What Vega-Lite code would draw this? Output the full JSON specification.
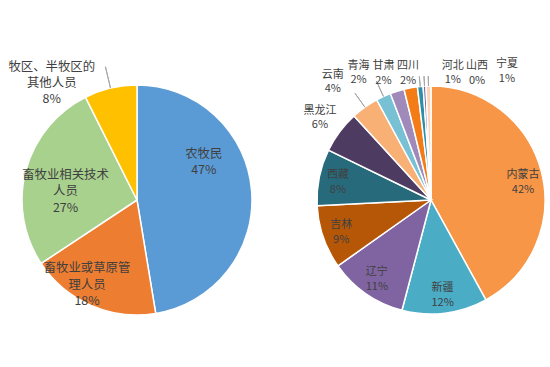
{
  "$schema": "https://vega.github.io/schema/vega-lite/v6.json",
  "padding": {"left": 0, "top": 33, "right": 0, "bottom": 0},
  "spacing": 38,
  "bounds": "flush",
  "background": "white",
  "config": {"view": {"stroke": null}, "text": {"font": "Noto Sans CJK SC"}},
  "resolve": {"scale": {"color": "independent", "theta": "independent"}},
  "hconcat": [
    {
      "width": 274,
      "height": 334,
      "data": {"values": [
        {"i": 1, "name": "农牧民", "value": 47.4, "label": "农牧民\n47%"},
        {"i": 2, "name": "畜牧业或草原管理人员", "value": 18.3, "label": "畜牧业或草原管\n理人员\n18%"},
        {"i": 3, "name": "畜牧业相关技术人员", "value": 26.9, "label": "畜牧业相关技术\n人员\n27%"},
        {"i": 4, "name": "牧区、半牧区的其他人员", "value": 7.4, "label": "牧区、半牧区的\n其他人员\n8%"}
      ]},
      "transform": [
        {"stack": "value", "groupby": [], "sort": [{"field": "i", "order": "ascending"}], "as": ["s0", "s1"]},
        {"calculate": "(datum.s0+datum.s1)/2", "as": "mid"}
      ],
      "layer": [
        {
          "mark": {"type": "arc", "outerRadius": 115, "stroke": "white", "strokeWidth": 1.5},
          "encoding": {
            "theta": {"field": "s0", "type": "quantitative", "stack": null, "scale": {"domain": [0, 100]}},
            "theta2": {"field": "s1"},
            "color": {"field": "name", "type": "nominal", "legend": null,
              "scale": {"domain": ["农牧民", "畜牧业或草原管理人员", "畜牧业相关技术人员", "牧区、半牧区的其他人员"],
                        "range": ["#5B9BD5", "#ED7D31", "#A9D18E", "#FFC000"]}}
          }
        },
        {
          "transform": [{"filter": "datum.i == 4"}],
          "mark": {"type": "arc", "radius": 137, "radius2": 115, "fill": "transparent", "stroke": "#a6a6a6", "strokeWidth": 1},
          "encoding": {
            "theta": {"field": "mid", "type": "quantitative", "stack": null, "scale": {"domain": [0, 100]}},
            "theta2": {"field": "mid"}
          }
        },
        {
          "transform": [{"filter": "datum.i == 1"}],
          "mark": {"type": "text", "radius": 75, "dx": -8, "dy": -40, "lineBreak": "\n", "fontSize": 12.4, "lineHeight": 16.3, "fill": "#404040"},
          "encoding": {"theta": {"field": "mid", "type": "quantitative", "stack": null, "scale": {"domain": [0, 100]}}, "text": {"field": "label"}}
        },
        {
          "transform": [{"filter": "datum.i == 2"}],
          "mark": {"type": "text", "radius": 90, "dx": -14, "dy": -14, "lineBreak": "\n", "fontSize": 12.4, "lineHeight": 16.3, "fill": "#404040"},
          "encoding": {"theta": {"field": "mid", "type": "quantitative", "stack": null, "scale": {"domain": [0, 100]}}, "text": {"field": "label"}}
        },
        {
          "transform": [{"filter": "datum.i == 3"}],
          "mark": {"type": "text", "radius": 74, "dx": 0, "dy": -6, "lineBreak": "\n", "fontSize": 12.4, "lineHeight": 16.3, "fill": "#404040"},
          "encoding": {"theta": {"field": "mid", "type": "quantitative", "stack": null, "scale": {"domain": [0, 100]}}, "text": {"field": "label"}}
        },
        {
          "transform": [{"filter": "datum.i == 4"}],
          "mark": {"type": "text", "radius": 140, "dx": -53, "dy": 3, "lineBreak": "\n", "fontSize": 12.4, "lineHeight": 16.3, "fill": "#404040"},
          "encoding": {"theta": {"field": "mid", "type": "quantitative", "stack": null, "scale": {"domain": [0, 100]}}, "text": {"field": "label"}}
        }
      ]
    },
    {
      "width": 238,
      "height": 334,
      "data": {"values": [
        {"i": 1, "name": "内蒙古", "value": 42.0, "label": "内蒙古\n42%"},
        {"i": 2, "name": "新疆", "value": 12.1, "label": "新疆\n12%"},
        {"i": 3, "name": "辽宁", "value": 11.1, "label": "辽宁\n11%"},
        {"i": 4, "name": "吉林", "value": 9.0, "label": "吉林\n9%"},
        {"i": 5, "name": "西藏", "value": 8.0, "label": "西藏\n8%"},
        {"i": 6, "name": "黑龙江", "value": 6.0, "label": "黑龙江\n6%"},
        {"i": 7, "name": "云南", "value": 3.9, "label": "云南\n4%"},
        {"i": 8, "name": "青海", "value": 2.1, "label": "青海\n2%"},
        {"i": 9, "name": "甘肃", "value": 2.0, "label": "甘肃\n2%"},
        {"i": 10, "name": "四川", "value": 1.9, "label": "四川\n2%"},
        {"i": 11, "name": "河北", "value": 0.8, "label": "河北\n1%"},
        {"i": 12, "name": "山西", "value": 0.4, "label": "山西\n0%"},
        {"i": 13, "name": "宁夏", "value": 0.7, "label": "宁夏\n1%"}
      ]},
      "transform": [
        {"stack": "value", "groupby": [], "sort": [{"field": "i", "order": "ascending"}], "as": ["s0", "s1"]},
        {"calculate": "(datum.s0+datum.s1)/2", "as": "mid"}
      ],
      "layer": [
        {
          "mark": {"type": "arc", "outerRadius": 114, "stroke": "white", "strokeWidth": 1.5},
          "encoding": {
            "theta": {"field": "s0", "type": "quantitative", "stack": null, "scale": {"domain": [0, 100]}},
            "theta2": {"field": "s1"},
            "color": {"field": "name", "type": "nominal", "legend": null,
              "scale": {"domain": ["内蒙古", "新疆", "辽宁", "吉林", "西藏", "黑龙江", "云南", "青海", "甘肃", "四川", "河北", "山西", "宁夏"],
                        "range": ["#F79646", "#4BACC6", "#8064A2", "#B65708", "#276A7C", "#4D3B62", "#F9B074", "#78C0D4", "#9F8AB9", "#F47C17", "#2C8EA8", "#7B5EA0", "#FBD5B5"]}}
          }
        },
        {
          "transform": [{"filter": "datum.i == 7 || datum.i == 8"}],
          "mark": {"type": "arc", "radius": 131, "radius2": 114, "fill": "transparent", "stroke": "#a6a6a6", "strokeWidth": 1},
          "encoding": {
            "theta": {"field": "mid", "type": "quantitative", "stack": null, "scale": {"domain": [0, 100]}},
            "theta2": {"field": "mid"}
          }
        },
        {
          "transform": [{"filter": "datum.i >= 11"}],
          "mark": {"type": "arc", "radius": 124, "radius2": 114, "fill": "transparent", "stroke": "#a6a6a6", "strokeWidth": 1},
          "encoding": {
            "theta": {"field": "mid", "type": "quantitative", "stack": null, "scale": {"domain": [0, 100]}},
            "theta2": {"field": "mid"}
          }
        },
        {
          "transform": [{"filter": "datum.i == 1"}],
          "mark": {"type": "text", "radius": 95, "dy": -1, "lineBreak": "\n", "fontSize": 11, "lineHeight": 14.5, "fill": "#404040"},
          "encoding": {"theta": {"field": "mid", "type": "quantitative", "stack": null, "scale": {"domain": [0, 100]}}, "text": {"field": "label"}}
        },
        {
          "transform": [{"filter": "datum.i >= 2 && datum.i <= 5"}],
          "mark": {"type": "text", "radius": 95, "dy": -6, "lineBreak": "\n", "fontSize": 11, "lineHeight": 14.5, "fill": "#404040"},
          "encoding": {"theta": {"field": "mid", "type": "quantitative", "stack": null, "scale": {"domain": [0, 100]}}, "text": {"field": "label"}}
        },
        {
          "transform": [{"filter": "datum.i == 6"}],
          "mark": {"type": "text", "radius": 141, "dx": 2, "dy": -5, "lineBreak": "\n", "fontSize": 11, "lineHeight": 14.5, "fill": "#404040"},
          "encoding": {"theta": {"field": "mid", "type": "quantitative", "stack": null, "scale": {"domain": [0, 100]}}, "text": {"field": "label"}}
        },
        {
          "transform": [{"filter": "datum.i == 7"}],
          "mark": {"type": "text", "radius": 140, "dx": -17, "dy": -11, "lineBreak": "\n", "fontSize": 11, "lineHeight": 14.5, "fill": "#404040"},
          "encoding": {"theta": {"field": "mid", "type": "quantitative", "stack": null, "scale": {"domain": [0, 100]}}, "text": {"field": "label"}}
        },
        {
          "transform": [{"filter": "datum.i == 8"}],
          "mark": {"type": "text", "radius": 140, "dx": -14, "dy": -7, "lineBreak": "\n", "fontSize": 11, "lineHeight": 14.5, "fill": "#404040"},
          "encoding": {"theta": {"field": "mid", "type": "quantitative", "stack": null, "scale": {"domain": [0, 100]}}, "text": {"field": "label"}}
        },
        {
          "transform": [{"filter": "datum.i == 9"}],
          "mark": {"type": "text", "radius": 140, "dx": -6, "dy": 0, "lineBreak": "\n", "fontSize": 11, "lineHeight": 14.5, "fill": "#404040"},
          "encoding": {"theta": {"field": "mid", "type": "quantitative", "stack": null, "scale": {"domain": [0, 100]}}, "text": {"field": "label"}}
        },
        {
          "transform": [{"filter": "datum.i == 10"}],
          "mark": {"type": "text", "radius": 140, "dx": 2, "dy": 4, "lineBreak": "\n", "fontSize": 11, "lineHeight": 14.5, "fill": "#404040"},
          "encoding": {"theta": {"field": "mid", "type": "quantitative", "stack": null, "scale": {"domain": [0, 100]}}, "text": {"field": "label"}}
        },
        {
          "transform": [{"filter": "datum.i == 11"}],
          "mark": {"type": "text", "radius": 140, "dx": 35, "dy": 5, "lineBreak": "\n", "fontSize": 11, "lineHeight": 14.5, "fill": "#404040"},
          "encoding": {"theta": {"field": "mid", "type": "quantitative", "stack": null, "scale": {"domain": [0, 100]}}, "text": {"field": "label"}}
        },
        {
          "transform": [{"filter": "datum.i == 12"}],
          "mark": {"type": "text", "radius": 140, "dx": 54, "dy": 6, "lineBreak": "\n", "fontSize": 11, "lineHeight": 14.5, "fill": "#404040"},
          "encoding": {"theta": {"field": "mid", "type": "quantitative", "stack": null, "scale": {"domain": [0, 100]}}, "text": {"field": "label"}}
        },
        {
          "transform": [{"filter": "datum.i == 13"}],
          "mark": {"type": "text", "radius": 140, "dx": 79, "dy": 4, "lineBreak": "\n", "fontSize": 11, "lineHeight": 14.5, "fill": "#404040"},
          "encoding": {"theta": {"field": "mid", "type": "quantitative", "stack": null, "scale": {"domain": [0, 100]}}, "text": {"field": "label"}}
        }
      ]
    }
  ]
}
